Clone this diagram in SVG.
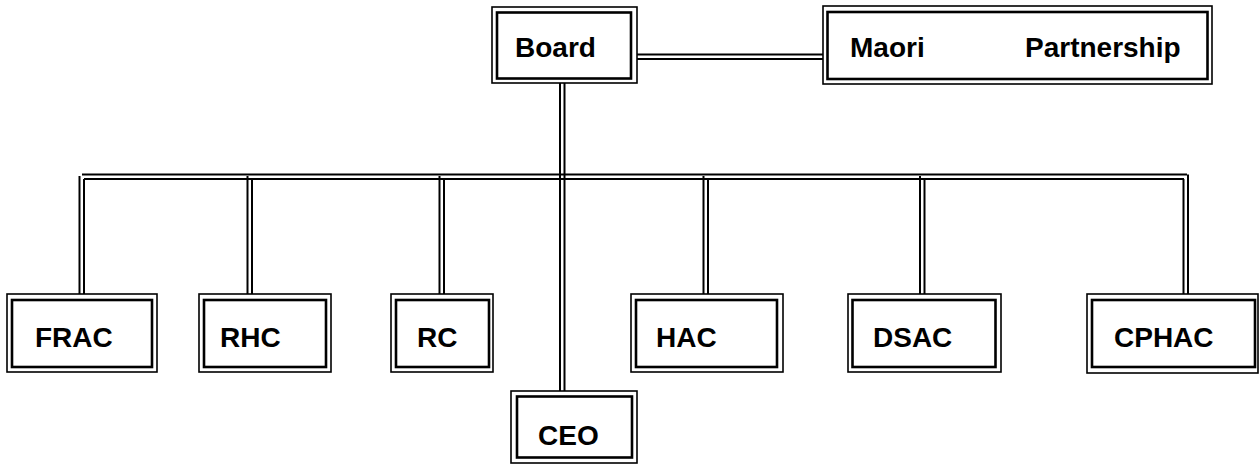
<svg xmlns="http://www.w3.org/2000/svg" width="1260" height="464" viewBox="0 0 1260 464">
<style>
.o{fill:none;stroke:#000;stroke-width:1.6}
.i{fill:none;stroke:#000;stroke-width:2.6}
.c{fill:none;stroke:#000;stroke-width:2}
.t{font-family:"Liberation Sans",Arial,sans-serif;font-weight:bold;font-size:28px;fill:#000}
</style>
<rect width="1260" height="464" fill="#fff"/>
<g id="connectors">
<line class="c" x1="637" y1="54.5" x2="823" y2="54.5"/>
<line class="c" x1="637" y1="59" x2="823" y2="59"/>
<line class="c" x1="560" y1="83" x2="560" y2="391"/>
<line class="c" x1="564.5" y1="83" x2="564.5" y2="391"/>
<line class="c" x1="82" y1="174.5" x2="1187" y2="174.5"/>
<line class="c" x1="84" y1="179" x2="1184" y2="179"/>
<line class="c" x1="79.5" y1="176" x2="79.5" y2="294"/>
<line class="c" x1="84" y1="179" x2="84" y2="294"/>
<line class="c" x1="247.5" y1="176" x2="247.5" y2="294"/>
<line class="c" x1="252" y1="179" x2="252" y2="294"/>
<line class="c" x1="439.5" y1="176" x2="439.5" y2="294"/>
<line class="c" x1="444" y1="179" x2="444" y2="294"/>
<line class="c" x1="703.5" y1="176" x2="703.5" y2="294"/>
<line class="c" x1="708" y1="179" x2="708" y2="294"/>
<line class="c" x1="920" y1="176" x2="920" y2="294"/>
<line class="c" x1="924.5" y1="179" x2="924.5" y2="294"/>
<line class="c" x1="1183.5" y1="179" x2="1183.5" y2="294"/>
<line class="c" x1="1188" y1="174.5" x2="1188" y2="294"/>
</g>
<g id="board">
<rect class="o" x="492" y="7" width="145" height="76"/>
<rect class="i" x="497" y="12.5" width="134" height="66"/>
<text class="t" x="515" y="57">Board</text>
</g>
<g id="maori">
<rect class="o" x="823" y="6" width="389" height="78"/>
<rect class="i" x="827.5" y="12" width="380" height="67"/>
<text class="t" x="850" y="57">Maori</text>
<text class="t" x="1025" y="57">Partnership</text>
</g>
<g id="frac">
<rect class="o" x="7" y="294" width="150" height="78"/>
<rect class="i" x="12" y="300" width="140" height="67"/>
<text class="t" x="35" y="347">FRAC</text>
</g>
<g id="rhc">
<rect class="o" x="199" y="294" width="132" height="78"/>
<rect class="i" x="204" y="300" width="122" height="67"/>
<text class="t" x="220" y="347">RHC</text>
</g>
<g id="rc">
<rect class="o" x="391" y="294" width="102" height="78"/>
<rect class="i" x="396" y="300" width="93" height="67"/>
<text class="t" x="417" y="347">RC</text>
</g>
<g id="hac">
<rect class="o" x="631" y="294" width="152" height="78"/>
<rect class="i" x="636" y="300" width="141" height="67"/>
<text class="t" x="656" y="347">HAC</text>
</g>
<g id="dsac">
<rect class="o" x="848" y="294" width="153" height="78"/>
<rect class="i" x="852.5" y="300" width="143" height="67"/>
<text class="t" x="873" y="347">DSAC</text>
</g>
<g id="cphac">
<rect class="o" x="1087" y="294" width="171" height="79"/>
<rect class="i" x="1092" y="300" width="163" height="67"/>
<text class="t" x="1114" y="347">CPHAC</text>
</g>
<g id="ceo">
<rect class="o" x="511" y="391" width="126" height="72"/>
<rect class="i" x="517" y="396.5" width="115" height="61"/>
<text class="t" x="538" y="445">CEO</text>
</g>
</svg>
